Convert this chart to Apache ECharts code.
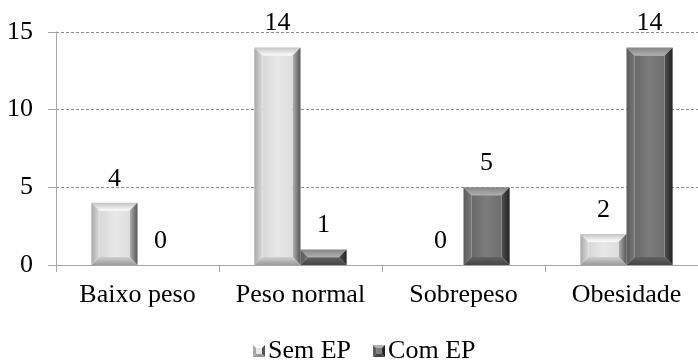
<!DOCTYPE html>
<html>
<head>
<meta charset="utf-8">
<script src="https://cdn.jsdelivr.net/npm/echarts@6/dist/echarts.min.js"></script>
<style>
  html, body { margin: 0; padding: 0; background: #fff; overflow: hidden; }
  /* the plot area runs slightly past the right edge of the window */
  #chart { width: 712px; height: 360px; }
</style>
</head>
<body>
<div id="chart"></div>
<script>
// Categories and counts per group
var categories = ['Baixo peso', 'Peso normal', 'Sobrepeso', 'Obesidade'];
var semEP = [4, 14, 0, 2];
var comEP = [0, 1, 5, 14];
var seriesNames = ['Sem EP', 'Com EP'];
var yTicks = [0, 5, 10, 15];

var FONT = '"Liberation Serif", "Times New Roman", serif';
var FS = 26;

// Shading palettes for the bevelled bars
var palettes = [
  { face: ['#d8d8d8', '#e8e8e8', '#dedede'], top: ['#c4c4c4', '#fdfdfd'], left: ['#a8a8a8', '#dcdcdc'], right: ['#555555', '#b4b4b4'], bottom: ['#9a9a9a', '#d0d0d0'] },
  { face: ['#6a6a6a', '#7c7c7c', '#6e6e6e'], top: ['#858585', '#b0b0b0'], left: ['#5a5a5a', '#787878'], right: ['#222222', '#505050'], bottom: ['#444444', '#626262'] }
];

function lin(x0, y0, x1, y1, c0, c1) {
  return new echarts.graphic.LinearGradient(x0, y0, x1, y1, [
    { offset: 0, color: c0 }, { offset: 1, color: c1 }
  ]);
}

function makeRender(seriesIndex) {
  var pal = palettes[seriesIndex];
  return function (params, api) {
    var cat = api.value(0);
    var val = api.value(1);
    var band = api.size([1, 0])[0];
    var barW = band * 0.283;
    var center = api.coord([cat, 0])[0];
    var base = api.coord([cat, 0])[1];
    var topY = api.coord([cat, val])[1];
    var x0 = seriesIndex === 0 ? center - barW : center;
    var x1 = x0 + barW;
    var h = base - topY;
    var children = [];
    if (h > 0.5) {
      var b = Math.min(8, h / 2, barW / 2);
      var ix0 = x0 + b, ix1 = x1 - b, iy0 = topY + b, iy1 = base - b;
      children.push({ type: 'polygon', shape: { points: [[x0, topY], [x1, topY], [ix1, iy0], [ix0, iy0]] },
        style: { fill: lin(0, 0, 0, 1, pal.top[0], pal.top[1]) } });
      children.push({ type: 'polygon', shape: { points: [[x0, topY], [ix0, iy0], [ix0, iy1], [x0, base]] },
        style: { fill: lin(0, 0, 1, 0, pal.left[0], pal.left[1]) } });
      children.push({ type: 'polygon', shape: { points: [[x1, topY], [x1, base], [ix1, iy1], [ix1, iy0]] },
        style: { fill: lin(1, 0, 0, 0, pal.right[0], pal.right[1]) } });
      children.push({ type: 'polygon', shape: { points: [[x0, base], [ix0, iy1], [ix1, iy1], [x1, base]] },
        style: { fill: lin(0, 1, 0, 0, pal.bottom[0], pal.bottom[1]) } });
      if (iy1 > iy0 && ix1 > ix0) {
        children.push({ type: 'rect', shape: { x: ix0, y: iy0, width: ix1 - ix0, height: iy1 - iy0 },
          style: { fill: new echarts.graphic.LinearGradient(0, 0, 1, 0, [
            { offset: 0, color: pal.face[0] }, { offset: 0.5, color: pal.face[1] }, { offset: 1, color: pal.face[2] }
          ]) } });
      }
    }
    children.push({ type: 'text', style: {
      text: String(val), x: (x0 + x1) / 2, y: topY - 24,
      align: 'center', verticalAlign: 'middle',
      font: FS + 'px ' + FONT, fill: '#000'
    } });
    return { type: 'group', children: children };
  };
}

function toData(arr) {
  return arr.map(function (v, i) { return [i, v]; });
}

// Small bevelled squares used as legend symbols
function legendIcon(p) {
  var svg = '<svg xmlns="http://www.w3.org/2000/svg" width="12" height="12">' +
    '<polygon points="0,0 12,0 9,3 3,3" fill="' + p.top[1] + '"/>' +
    '<polygon points="0,0 3,3 3,9 0,12" fill="' + p.left[0] + '"/>' +
    '<polygon points="12,0 12,12 9,9 9,3" fill="' + p.right[0] + '"/>' +
    '<polygon points="0,12 3,9 9,9 12,12" fill="' + p.bottom[0] + '"/>' +
    '<rect x="3" y="3" width="6" height="6" fill="' + p.face[1] + '"/></svg>';
  return 'image://data:image/svg+xml;charset=utf-8,' + encodeURIComponent(svg);
}

var chart = echarts.init(document.getElementById('chart'), null, { renderer: 'canvas' });
chart.setOption({
  animation: false,
  backgroundColor: '#ffffff',
  grid: { left: 56, right: 4, top: 32, bottom: 95, containLabel: false },
  legend: {
    left: 248, top: 333,
    itemWidth: 12, itemHeight: 12, itemGap: 22,
    textStyle: { fontFamily: FONT, fontSize: FS, color: '#000', padding: [0, 0, 0, -2] },
    data: [
      { name: seriesNames[0], icon: legendIcon(palettes[0]) },
      { name: seriesNames[1], icon: legendIcon(palettes[1]) }
    ]
  },
  xAxis: {
    type: 'category',
    data: categories,
    axisLine: { lineStyle: { color: '#a6a6a6', width: 1 } },
    axisTick: { show: true, length: 7, lineStyle: { color: '#a6a6a6' } },
    axisLabel: { interval: 0, fontFamily: FONT, fontSize: FS, color: '#000', margin: 17 },
    splitLine: { show: false }
  },
  yAxis: {
    type: 'value',
    min: yTicks[0], max: yTicks[yTicks.length - 1], interval: 5,
    axisLine: { show: true, lineStyle: { color: '#a6a6a6', width: 1 } },
    axisTick: { show: true, length: 8, lineStyle: { color: '#a6a6a6' } },
    axisLabel: { fontFamily: FONT, fontSize: FS, color: '#000', margin: 23 },
    splitLine: { show: true, lineStyle: { color: '#8c8c8c', type: [3, 2], width: 1 } }
  },
  series: [
    { name: seriesNames[0], type: 'custom', renderItem: makeRender(0), data: toData(semEP), encode: { x: 0, y: 1 }, itemStyle: { color: '#dcdcdc' } },
    { name: seriesNames[1], type: 'custom', renderItem: makeRender(1), data: toData(comEP), encode: { x: 0, y: 1 }, itemStyle: { color: '#6e6e6e' } }
  ]
});
</script>
</body>
</html>
